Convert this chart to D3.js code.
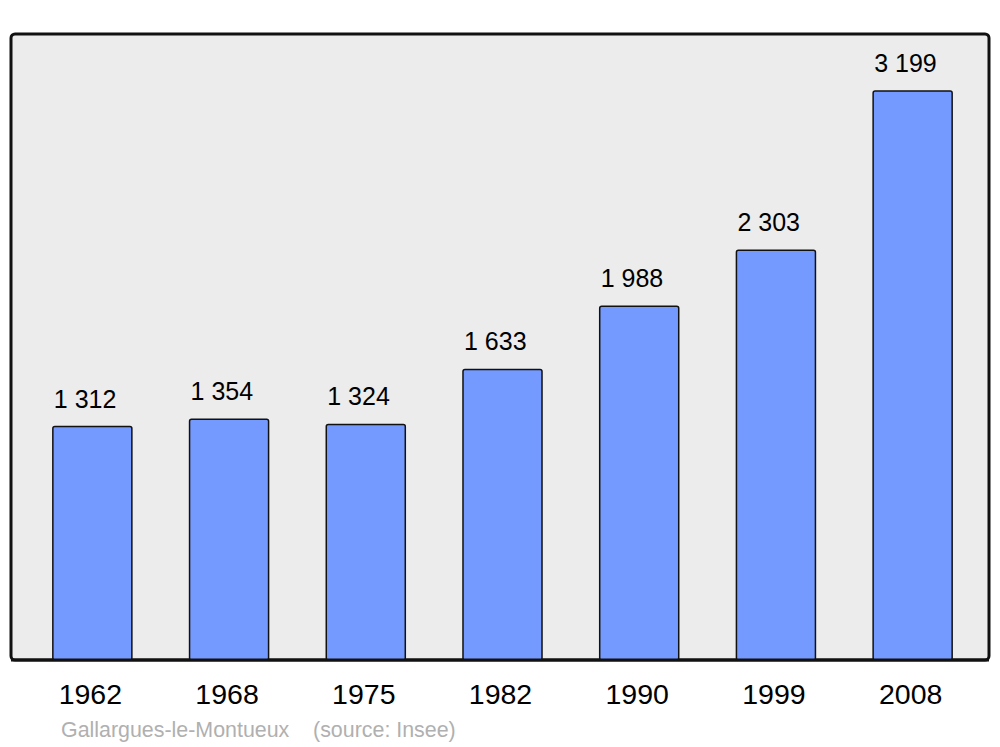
<!DOCTYPE html>
<html>
<head>
<meta charset="utf-8">
<script src="https://cdn.jsdelivr.net/npm/d3@7"></script>
<style>
  body { margin: 0; background: #fff; }
  text { font-family: "Liberation Sans", Arial, sans-serif; }
</style>
</head>
<body>
<div id="chart"></div>
<script>
// chart data
const years = ["1962", "1968", "1975", "1982", "1990", "1999", "2008"];
const population = [1312, 1354, 1324, 1633, 1988, 2303, 3199];
const commune = "Gallargues-le-Montueux";
const source = "(source: Insee)";

const width = 1000;
const height = 747;

// plot frame
const frame = { left: 11, right: 989, top: 34, bottom: 660 };

const svg = d3.select("#chart")
  .append("svg")
  .attr("width", width)
  .attr("height", height);

svg.append("rect")
  .attr("x", frame.left)
  .attr("y", frame.top)
  .attr("width", frame.right - frame.left)
  .attr("height", frame.bottom - frame.top)
  .attr("rx", 4)
  .attr("fill", "#ececec")
  .attr("stroke", "#111")
  .style("stroke-width", "3px");

// scales
const x = d3.scaleBand()
  .domain(years)
  .range([24, 981])
  .paddingInner(0.422)
  .paddingOuter(0.211);

const y = d3.scaleLinear()
  .domain([0, d3.max(population) * 1.1])
  .range([frame.bottom, frame.top]);

// bars
svg.selectAll(".bar")
  .data(population)
  .enter()
  .append("rect")
  .attr("class", "bar")
  .attr("x", function(d, i) { return x(years[i]); })
  .attr("y", function(d) { return y(d); })
  .attr("width", x.bandwidth())
  .attr("height", function(d) { return frame.bottom - y(d); })
  .attr("rx", 2)
  .attr("fill", "#7499ff")
  .attr("stroke", "#111")
  .style("stroke-width", "1.5px");

// redraw frame bottom line over bars
svg.append("line")
  .attr("x1", frame.left)
  .attr("x2", frame.right)
  .attr("y1", frame.bottom)
  .attr("y2", frame.bottom)
  .attr("stroke", "#111")
  .style("stroke-width", "3px");

// value labels with space as thousands separator
const fmt = function(d) { return d3.format(",")(d).replace(/,/g, " "); };

svg.selectAll(".value")
  .data(population)
  .enter()
  .append("text")
  .attr("class", "value")
  .attr("x", function(d, i) { return x(years[i]) + 1; })
  .attr("y", function(d) { return y(d) - 19; })
  .style("font-size", "25px")
  .style("fill", "#000")
  .text(fmt);

// year labels
svg.selectAll(".year")
  .data(years)
  .enter()
  .append("text")
  .attr("class", "year")
  .attr("x", function(d) { return x(d) + x.bandwidth() / 2 - 2; })
  .attr("y", 704)
  .attr("text-anchor", "middle")
  .style("font-size", "28.5px")
  .style("fill", "#000")
  .text(function(d) { return d; });

// footer
svg.append("text")
  .attr("x", 61)
  .attr("y", 737)
  .style("font-size", "21.4px")
  .style("fill", "#b0b0b0")
  .style("white-space", "pre")
  .text(commune + "    " + source);
</script>
</body>
</html>
